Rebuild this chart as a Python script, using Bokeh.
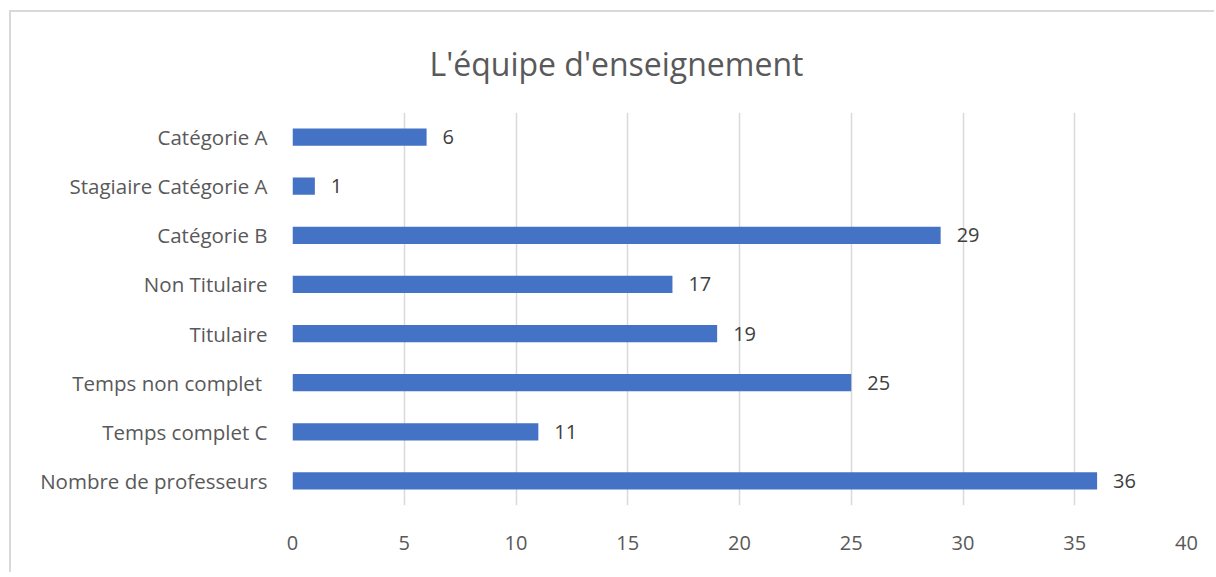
from bokeh.plotting import figure
from bokeh.models import ColumnDataSource, FactorRange, Range1d, LabelSet, FixedTicker
from bokeh.core.properties import value
from bokeh.embed import file_html
from bokeh.resources import INLINE

categories = ["Catégorie A", "Stagiaire Catégorie A", "Catégorie B", "Non Titulaire",
              "Titulaire", "Temps non complet ", "Temps complet C", "Nombre de professeurs"]
values = [6, 1, 29, 17, 19, 25, 11, 36]
x_ticks = [0, 5, 10, 15, 20, 25, 30, 35, 40]

FONT = "Open Sans"

src = ColumnDataSource(dict(cat=categories, val=values, lab=[str(v) for v in values]))

p = figure(width=1205, height=562, output_backend="svg", toolbar_location=None,
           y_range=FactorRange(*list(reversed(categories)), range_padding=0),
           x_range=Range1d(0, 40),
           min_border_left=281, min_border_right=30, min_border_top=99, min_border_bottom=69,
           title="L'équipe d'enseignement")

p.hbar(y="cat", right="val", left=0, height=0.35, source=src, color="#4472C4", line_color=None)

labels = LabelSet(x="val", y="cat", text="lab", source=src, x_offset=16, text_baseline="middle",
                  text_font=value(FONT), text_font_size=value("20px"), text_color="#404040")
p.add_layout(labels)

p.title.text_font = FONT
p.title.text_font_size = "32px"
p.title.text_font_style = "normal"
p.title.text_color = "#595959"
p.title.align = "left"
p.title.offset = 137
p.title.standoff = 55

p.xaxis.ticker = FixedTicker(ticks=x_ticks)
for ax in (p.xaxis[0], p.yaxis[0]):
    ax.axis_line_color = None
    ax.major_tick_line_color = None
    ax.minor_tick_line_color = None
    ax.major_tick_out = 0
    ax.minor_tick_out = 0
    ax.major_label_text_font = FONT
    ax.major_label_text_font_size = "20px"
    ax.major_label_text_color = "#595959"
p.xaxis[0].major_label_standoff = 30
p.yaxis[0].major_label_standoff = 25
p.yaxis[0].major_label_text_font_size = "20.5px"

p.xgrid.grid_line_color = "#d9d9d9"
p.xgrid.grid_line_width = 1.5
p.ygrid.grid_line_color = None
p.outline_line_color = None

p.styles = {"margin-left": "9px", "margin-top": "10px",
            "border-left": "2px solid #d9d9d9", "border-top": "2px solid #d9d9d9"}

open("out.html", "w").write(file_html(p, INLINE))
